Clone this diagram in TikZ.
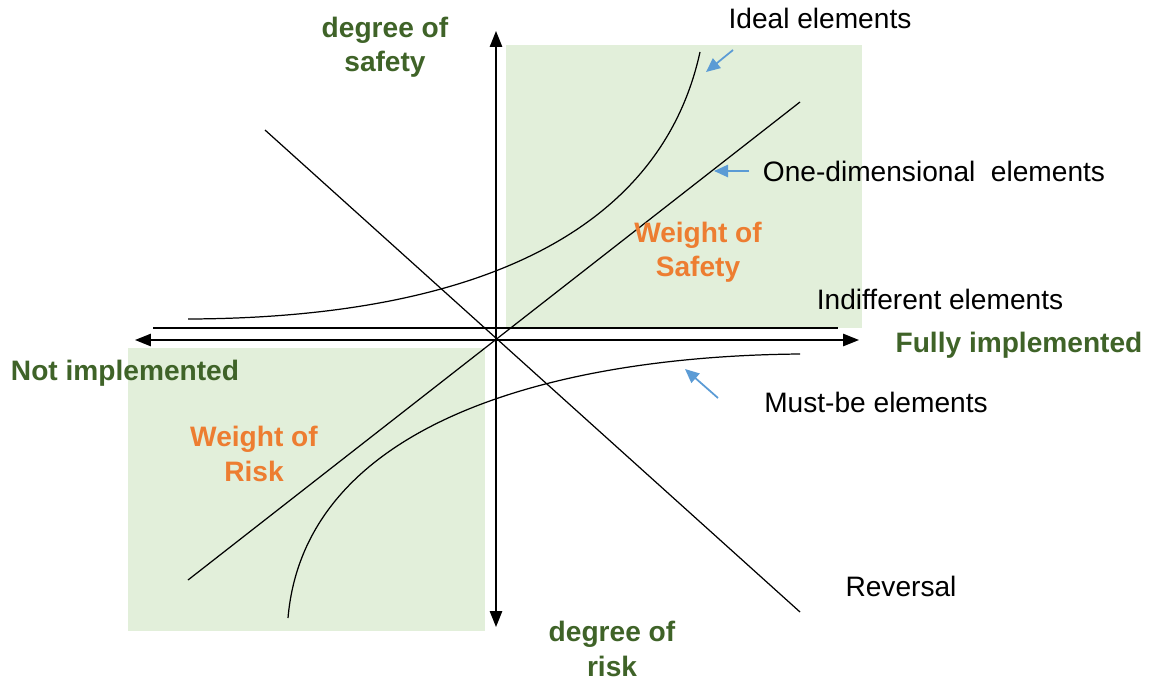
\documentclass[tikz,border=0pt]{standalone}
\usepackage{fontspec}
\setmainfont{Liberation Sans}
\usetikzlibrary{arrows.meta}
\definecolor{verdetesto}{HTML}{3F6328}
\definecolor{arancio}{HTML}{ED7D31}
\definecolor{verdefondo}{HTML}{E2EFDA}
\definecolor{azzurro}{HTML}{5B9BD5}
\begin{document}
\begin{tikzpicture}[
    x=0.02cm, y=-0.02cm,
    font=\fontsize{16}{19}\selectfont,
    asse/.style={line width=0.8pt, -{Triangle[length=9pt, width=7pt]}},
    curva/.style={line width=0.7pt},
    freccina/.style={azzurro, line width=1pt, -{Triangle[length=8pt, width=7pt]}},
    etichetta/.style={inner sep=1pt},
    titoloasse/.style={text=verdetesto, font=\fontsize{16}{19.5}\selectfont\bfseries, align=center, inner sep=1pt},
    peso/.style={text=arancio, font=\fontsize{16}{19.5}\selectfont\bfseries, align=center, inner sep=1pt},
  ]
  \useasboundingbox (0,0) rectangle (1155,683);

  % --- le zone colorate ----------------------------------------------
  \fill[verdefondo] (506,45) rectangle (862,328);
  \fill[verdefondo] (128,348) rectangle (485,631);

  % --- gli assi -------------------------------------------------------
  \coordinate (origine) at (496,340);
  \coordinate (sx) at (135,340);
  \coordinate (dx) at (859,340);
  \coordinate (su) at (496,31);
  \coordinate (giu) at (496,627);
  \draw[asse] (origine) -- (dx);
  \draw[asse] (origine) -- (sx);
  \draw[asse] (origine) -- (su);
  \draw[asse] (origine) -- (giu);

  % --- le curve -------------------------------------------------------
  \draw[curva] (188,319) .. controls (470,318) and (660,235) .. (700,52);
  \draw[curva] (188,580) -- (800,102);
  \draw[curva] (153,328) -- (838,328);
  \draw[curva] (288,618) .. controls (305,420) and (560,356) .. (800,354);
  \draw[curva] (265,130) -- (800,612);

  % --- le etichette delle curve ---------------------------------------
  \node[etichetta] (ideale) at (820,18) {Ideal elements};
  \node[etichetta] (unidim) at (934,171) {One-dimensional\ \ elements};
  \node[etichetta] (indiff) at (940,299) {Indifferent elements};
  \node[etichetta] (obblig) at (876,402) {Must-be elements};
  \node[etichetta] (inversa) at (901,586) {Reversal};

  % --- le frecce azzurre ----------------------------------------------
  \coordinate (pIdeale) at (706,72);
  \coordinate (pUnidim) at (714,171);
  \coordinate (pObblig) at (685,369);
  \draw[freccina] (733,50) -- (pIdeale);
  \draw[freccina] (749,171) -- (pUnidim);
  \draw[freccina] (718,398) -- (pObblig);

  % --- i titoli degli assi --------------------------------------------
  \node[titoloasse] (sicurezza) at (385,47) {degree of\\safety};
  \node[titoloasse] (rischio) at (612,649) {degree of\\risk};
  \node[titoloasse] (pieno) at (1019,345) {Fully implemented};
  \node[titoloasse] (nulla) at (125,373) {Not implemented};

  % --- i pesi ---------------------------------------------------------
  \node[peso] (pesoSic) at (698,252) {Weight of\\Safety};
  \node[peso] (pesoRis) at (254,454) {Weight of\\Risk};

\end{tikzpicture}
\end{document}
